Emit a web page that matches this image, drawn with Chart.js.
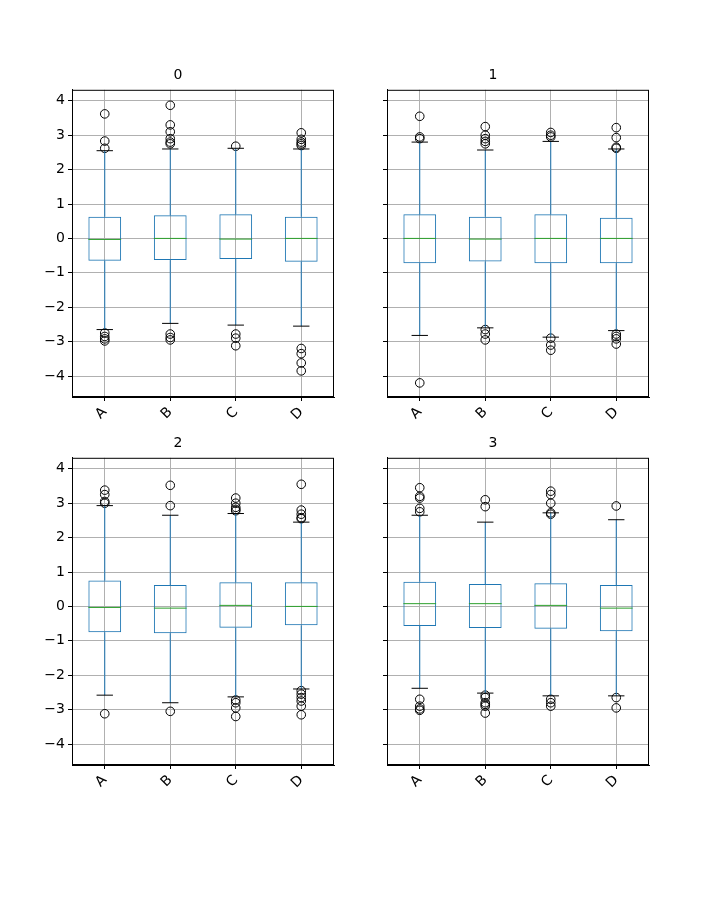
<!DOCTYPE html>
<html><head><meta charset="utf-8">
<script src="https://cdn.jsdelivr.net/npm/chart.js@4/dist/chart.umd.min.js"></script>
<style>body{margin:0;background:#fff;width:720px;height:900px;position:relative;overflow:hidden}
.c{position:absolute;width:362px;height:370px}</style></head><body>
<div class="c" style="left:22px;top:67px"><canvas id="c0"></canvas></div>
<div class="c" style="left:337px;top:67px"><canvas id="c1"></canvas></div>
<div class="c" style="left:22px;top:435px"><canvas id="c2"></canvas></div>
<div class="c" style="left:337px;top:435px"><canvas id="c3"></canvas></div>
<script>
const categories = ['A','B','C','D'];
const titles = ['0','1','2','3'];
const yTicks = [-4,-3,-2,-1,0,1,2,3,4];
// per subplot, per category: q1, median, q3, lower whisker, upper whisker
const q1s = [[-0.65,-0.63,-0.60,-0.68],[-0.72,-0.67,-0.72,-0.72],[-0.75,-0.78,-0.62,-0.55],[-0.57,-0.63,-0.65,-0.72]];
const q3s = [[0.63,0.67,0.70,0.63],[0.70,0.63,0.70,0.60],[0.75,0.62,0.70,0.70],[0.72,0.65,0.67,0.62]];
const meds = [[-0.03,0.0,-0.02,0.0],[0.0,-0.02,0.0,0.0],[-0.03,-0.05,0.03,0.0],[0.08,0.08,0.03,-0.05]];
const loW = [[-2.65,-2.47,-2.52,-2.55],[-2.82,-2.60,-2.87,-2.68],[-2.58,-2.80,-2.63,-2.40],[-2.38,-2.52,-2.60,-2.60]];
const hiW = [[2.55,2.60,2.62,2.60],[2.80,2.57,2.82,2.60],[2.93,2.65,2.70,2.45],[2.65,2.45,2.72,2.52]];
const fliers = [
 [[3.62,2.83,2.62,-2.75,-2.85,-2.92,-2.98],[3.87,3.3,3.1,2.9,2.8,2.75,-2.78,-2.88,-2.95],[2.68,-2.78,-2.9,-3.12],[3.07,2.88,2.8,2.75,2.7,-3.2,-3.35,-3.62,-3.85]],
 [[3.55,2.95,2.9,-4.2],[3.25,3.0,2.9,2.82,2.75,-2.65,-2.78,-2.95],[3.08,3.0,2.95,-2.9,-3.1,-3.25],[3.22,2.93,2.65,2.62,-2.78,-2.85,-2.92,-3.07]],
 [[3.38,3.25,3.05,3.0,-3.12],[3.52,2.93,-3.05],[3.15,3.0,2.88,2.82,2.78,-2.72,-2.8,-2.95,-3.2],[3.55,2.8,2.68,2.58,2.55,-2.45,-2.55,-2.65,-2.75,-2.9,-3.15]],
 [[3.45,3.2,3.15,2.85,2.75,-2.7,-2.9,-2.98,-3.02],[3.1,2.9,-2.58,-2.65,-2.8,-2.85,-2.9,-3.1],[3.35,3.25,3.0,2.72,2.68,-2.7,-2.8,-2.9],[2.92,-2.65,-2.95]]
];
const boxPlugin = {
  id:'boxExtra',
  afterDatasetsDraw(chart, args, opts){
    const x=chart.scales.x, y=chart.scales.y, ctx=chart.ctx, i=opts.idx;
    const unit = x.getPixelForValue(1)-x.getPixelForValue(0);
    ctx.save(); ctx.lineWidth=1;
    categories.forEach((c,k)=>{
      const cx=x.getPixelForValue(k);
      ctx.strokeStyle='#1f77b4'; ctx.beginPath();
      ctx.moveTo(cx,y.getPixelForValue(q3s[i][k])); ctx.lineTo(cx,y.getPixelForValue(hiW[i][k]));
      ctx.moveTo(cx,y.getPixelForValue(q1s[i][k])); ctx.lineTo(cx,y.getPixelForValue(loW[i][k])); ctx.stroke();
      ctx.strokeStyle='#000'; ctx.beginPath();
      [hiW[i][k],loW[i][k]].forEach(v=>{const py=y.getPixelForValue(v);ctx.moveTo(cx-unit*0.125,py);ctx.lineTo(cx+unit*0.125,py);});
      ctx.stroke();
      ctx.strokeStyle='#2ca02c'; ctx.beginPath();
      const my=y.getPixelForValue(meds[i][k]); ctx.moveTo(cx-unit*0.25,my); ctx.lineTo(cx+unit*0.25,my); ctx.stroke();
    });
    const a=chart.chartArea; ctx.strokeStyle='#000'; ctx.strokeRect(a.left+0.5,a.top+0.5,a.right-a.left-1,a.bottom-a.top-1);
    ctx.restore();
  }
};
for(let i=0;i<4;i++){
  const pts=[]; categories.forEach((c,k)=>fliers[i][k].forEach(v=>pts.push({x:c,y:v})));
  new Chart(document.getElementById('c'+i),{
    type:'bar',
    data:{labels:categories,datasets:[
      {type:'bar',data:categories.map((c,k)=>[q1s[i][k],q3s[i][k]]),borderColor:'#1f77b4',borderWidth:1,backgroundColor:'rgba(0,0,0,0)',borderSkipped:false,categoryPercentage:1,barPercentage:0.5},
      {type:'scatter',data:pts,pointRadius:4.3,pointStyle:'circle',borderColor:'#000',backgroundColor:'rgba(0,0,0,0)',borderWidth:1,showLine:false}
    ]},
    plugins:[boxPlugin],
    options:{animation:false,responsive:true,maintainAspectRatio:false,
      layout:{padding:{left:0,right:50,top:0,bottom:0}},
      plugins:{legend:{display:false},tooltip:{enabled:false},
        title:{display:true,text:titles[i],color:'#000',font:{size:14,family:'DejaVu Sans',weight:'normal',lineHeight:1.2},padding:{top:0,bottom:6}},
        boxExtra:{idx:i}},
      scales:{
        x:{type:'category',offset:true,afterFit:s=>{s.height=40;},
          grid:{color:'#b0b0b0',offset:false,tickLength:4,tickColor:'#000'},border:{color:'#000'},
          ticks:{color:'#000',minRotation:45,maxRotation:45,font:{size:14,family:'DejaVu Sans'}}},
        y:{min:-4.61,max:4.32,afterFit:s=>{s.width=50;},
          afterBuildTicks:s=>{s.ticks=yTicks.map(v=>({value:v}));},
          grid:{color:'#b0b0b0',tickLength:4,tickColor:'#000'},border:{color:'#000'},
          ticks:{color:'#000',font:{size:14,family:'DejaVu Sans'},callback:v=>i%2===1?'':String(v).replace('-','\u2212')}}
      }}
  });
}
</script></body></html>
